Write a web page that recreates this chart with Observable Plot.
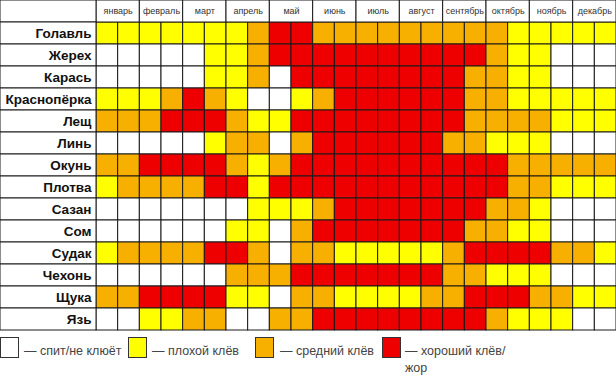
<!DOCTYPE html>
<html><head><meta charset="utf-8">
<script src="https://cdn.jsdelivr.net/npm/d3@7"></script>
<script src="https://cdn.jsdelivr.net/npm/@observablehq/plot@0.6"></script>
<style>
body{margin:0;background:#fff;}
#wrap{width:616px;position:relative;}
#legend{position:relative;height:45px;font-family:"Liberation Sans",Arial,sans-serif;font-size:12.5px;color:#444;}
.sw{position:absolute;top:5px;width:19px;height:21px;border:1px solid #333;box-sizing:border-box;}
.lt{position:absolute;top:10.5px;line-height:17px;white-space:nowrap;}
</style></head><body><div id="wrap"><div id="chart"></div><div id="legend"></div></div>
<script>
const months = ["январь","февраль","март","апрель","май","июнь","июль","август","сентябрь","октябрь","ноябрь","декабрь"];
const fish = ["Голавль","Жерех","Карась","Краснопёрка","Лещ","Линь","Окунь","Плотва","Сазан","Сом","Судак","Чехонь","Щука","Язь"];
const levelLabels = ["— спит/не клюёт","— плохой клёв","— средний клёв","— хороший клёв/жор"];
const levelColors = ["#ffffff","#ffff00","#f8b000","#ee0000"];
// 0 = спит, 1 = плохой, 2 = средний, 3 = хороший; two halves per month
const bite = [
  [1,1,1,1,1,1,1,2,3,3,2,2,2,2,2,2,2,2,2,1,1,1,1,1],
  [0,0,0,0,0,1,1,2,3,3,3,3,3,3,3,3,3,3,2,1,1,0,0,0],
  [0,0,0,0,0,1,1,2,0,3,3,3,3,3,3,3,3,2,2,1,1,0,0,0],
  [1,1,1,2,3,2,1,0,0,1,2,3,3,3,3,3,3,2,2,1,1,1,1,1],
  [2,2,2,3,3,3,2,1,1,3,3,3,3,3,3,3,3,2,2,2,2,1,1,1],
  [0,0,0,0,0,1,2,2,0,2,3,3,3,3,3,3,2,2,1,1,1,0,0,0],
  [2,2,3,3,3,3,2,1,2,3,3,3,3,3,3,3,3,3,3,2,2,2,2,2],
  [1,2,2,2,2,3,3,1,3,3,3,3,3,3,3,3,3,3,3,2,2,1,1,1],
  [0,0,0,0,0,0,0,1,1,1,2,3,3,3,3,3,3,3,2,2,1,0,0,0],
  [0,0,0,0,0,0,1,1,0,2,3,3,3,3,3,3,3,2,2,1,1,0,0,0],
  [1,2,2,2,2,3,3,2,0,2,2,1,1,1,1,1,2,3,3,3,3,2,2,1],
  [0,0,0,0,0,0,2,2,2,3,3,3,3,3,3,3,2,2,1,1,1,0,0,0],
  [2,2,3,3,3,3,1,1,0,2,2,1,1,1,1,2,2,3,3,3,2,2,1,1],
  [0,0,1,1,2,2,0,0,2,2,3,3,3,3,3,3,3,3,2,1,1,1,0,0]
];

const LW = 96 * 24 / 520; // label column width in half-month units
const HEADER = " ";
const cells = [];
fish.forEach((f, i) => bite[i].forEach((v, j) => cells.push({fish: f, col: j, level: v})));
const line = "#1a1a1a";

const chart = Plot.plot({
  width: 616, height: 332,
  marginTop: 0, marginBottom: 2, marginLeft: 0, marginRight: 0,
  style: {fontFamily: "'Liberation Sans', Arial, sans-serif", background: "#fff"},
  x: {domain: [-LW, 24], axis: null},
  y: {domain: [HEADER, ...fish], axis: null, padding: 0},
  color: {type: "ordinal", domain: [0, 1, 2, 3], range: levelColors},
  marks: [
    Plot.barX(cells, {x1: "col", x2: d => d.col + 1, y: "fish", fill: "level", stroke: line, strokeWidth: 1}),
    Plot.barX(months, {x1: (d, i) => 2 * i, x2: (d, i) => 2 * i + 2, y: () => HEADER, fill: "#fff", stroke: line, strokeWidth: 1}),
    Plot.barX([HEADER, ...fish], {x1: -LW, x2: 0, y: d => d, fill: "#fff", stroke: line, strokeWidth: 1}),
    Plot.text(months, {x: (d, i) => 2 * i + 1, y: () => HEADER, text: d => d, fontSize: 9, fill: "#333"}),
    Plot.text(fish, {x: 0, y: d => d, text: d => d, textAnchor: "end", dx: -5, fontWeight: "bold", fontSize: 13.5, fill: "#111"})
  ]
});
document.getElementById("chart").appendChild(chart);

const swLeft = [0, 128, 255, 382];
const txLeft = [24, 152, 280, 405];
const legend = document.getElementById("legend");
levelLabels.forEach((lab, i) => {
  const sw = document.createElement("div");
  sw.className = "sw";
  sw.style.left = swLeft[i] + "px";
  sw.style.background = levelColors[i];
  legend.appendChild(sw);
  const t = document.createElement("div");
  t.className = "lt";
  t.style.left = txLeft[i] + "px";
  t.innerHTML = lab.replace("/жор", "/<br>жор");
  legend.appendChild(t);
});
</script></body></html>
